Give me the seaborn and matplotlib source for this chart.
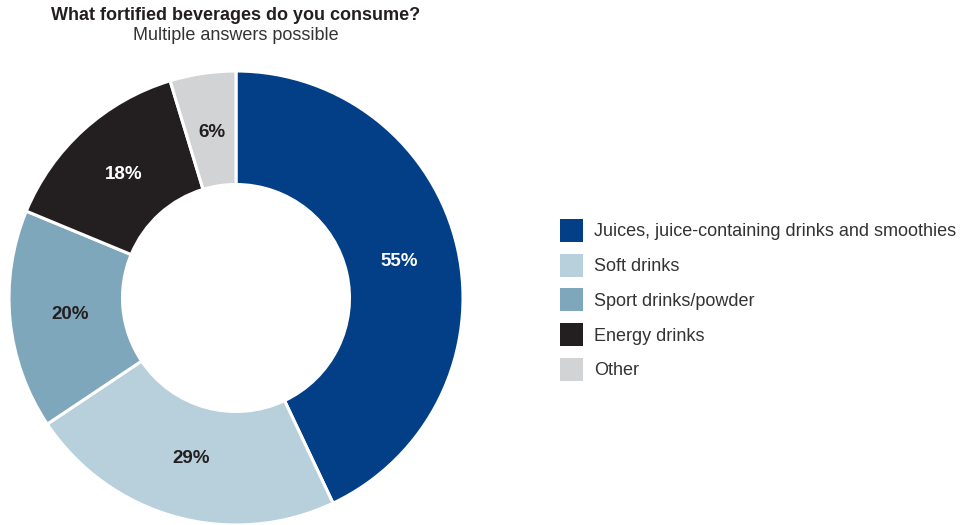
import matplotlib
matplotlib.use("Agg")
import matplotlib.pyplot as plt
import numpy as np
import seaborn as sns

sns.set_theme(style="white")
plt.rcParams["font.family"] = ["Liberation Sans", "DejaVu Sans"]

categories = [
    "Juices, juice-containing drinks and smoothies",
    "Soft drinks",
    "Sport drinks/powder",
    "Energy drinks",
    "Other",
]
shares = [55, 29, 20, 18, 6]
colors = sns.color_palette(["#023F87", "#B8D0DC", "#7FA7BC", "#231F20", "#D1D3D4"])
label_colors = ["white", "#231F20", "#231F20", "white", "#231F20"]

W, H = 960, 525
fig = plt.figure(figsize=(W / 100, H / 100), dpi=100)

# donut axes: centre (236, 298) px, radius 227 px
cx, cy, r = 236, 298, 227
ax = fig.add_axes([(cx - r) / W, (H - cy - r) / H, 2 * r / W, 2 * r / H])

wedges, _ = ax.pie(
    shares,
    colors=colors,
    startangle=90,
    counterclock=False,
    radius=1.0,
    wedgeprops=dict(width=0.5, edgecolor="white", linewidth=2.2),
)
ax.set_xlim(-1, 1)
ax.set_ylim(-1, 1)
ax.set_aspect("equal")
ax.axis("off")

# percentage labels inside each ring segment
for w, val, tc in zip(wedges, shares, label_colors):
    mid = np.deg2rad((w.theta1 + w.theta2) / 2)
    ax.text(0.735 * np.cos(mid), 0.735 * np.sin(mid), f"{val}%",
            ha="center", va="center", fontsize=13.5, fontweight="bold", color=tc)

fig.text(cx / W, 1 - 16 / H, "What fortified beverages do you consume?",
         ha="center", va="center", fontsize=13, fontweight="bold", color="#231F20")
fig.text(cx / W, 1 - 36 / H, "Multiple answers possible",
         ha="center", va="center", fontsize=13, color="#333333")

leg = fig.legend(
    wedges, categories,
    loc="upper left",
    bbox_to_anchor=(560 / W, 1 - 219 / H),
    bbox_transform=fig.transFigure,
    frameon=False,
    fontsize=13,
    handlelength=1.27,
    handleheight=1.58,
    handletextpad=0.6,
    labelspacing=0.65,
    borderpad=0,
    borderaxespad=0,
)
for t in leg.get_texts():
    t.set_color("#333333")
for h in leg.legend_handles:
    h.set_edgecolor("none")
    h.set_linewidth(0)

fig.savefig("out.png", dpi=100, facecolor="white")
